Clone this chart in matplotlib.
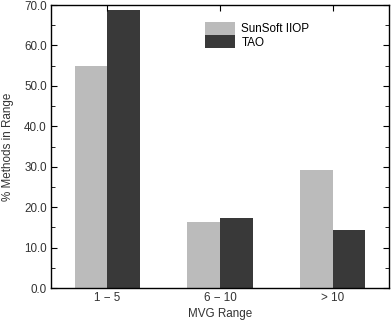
import numpy as np
import matplotlib.pyplot as plt
from matplotlib.ticker import MultipleLocator, FormatStrFormatter

# Data
categories = ['1 \u2212 5', '6 \u2212 10', '> 10']
sunsoft = [54.9, 16.3, 29.2]
tao = [68.8, 17.3, 14.4]
series_names = ['SunSoft IIOP', 'TAO']

plt.rcParams['font.family'] = ['Liberation Sans', 'DejaVu Sans']
plt.rcParams['font.size'] = 8.4

fig = plt.figure(figsize=(3.91, 3.21), dpi=100)
ax = fig.add_axes([0.1304, 0.1028, 0.8646, 0.8816])

x = np.arange(len(categories))
width = 0.29
ax.bar(x - width / 2, sunsoft, width, color='#bbbbbb', label=series_names[0])
ax.bar(x + width / 2, tao, width, color='#393939', label=series_names[1])

ax.set_xlim(-0.5, 2.5)
ax.set_ylim(0, 70)
ax.yaxis.set_major_locator(MultipleLocator(10))
ax.yaxis.set_minor_locator(MultipleLocator(5))
ax.yaxis.set_major_formatter(FormatStrFormatter('%.1f'))
ax.set_xticks(x)
ax.set_xticklabels(categories)

txt = '#333333'
ax.tick_params(axis='y', which='both', direction='in', left=True, right=True,
               colors='black', labelcolor=txt, pad=3)
ax.tick_params(axis='y', which='major', length=4)
ax.tick_params(axis='y', which='minor', length=3)
ax.tick_params(axis='x', direction='in', top=True, bottom=False, length=4,
               labelcolor=txt, pad=3)
for s in ax.spines.values():
    s.set_linewidth(1.0)

ax.set_xlabel('MVG Range', color=txt, labelpad=3)
ax.set_ylabel('% Methods in Range', color=txt, labelpad=7)

ax.legend(loc='upper left', bbox_to_anchor=(0.456, 0.94), frameon=False,
          borderpad=0, borderaxespad=0, labelspacing=0, handlelength=2.6,
          handleheight=1.3, handletextpad=0.5)

plt.savefig('out.png', dpi=100)
